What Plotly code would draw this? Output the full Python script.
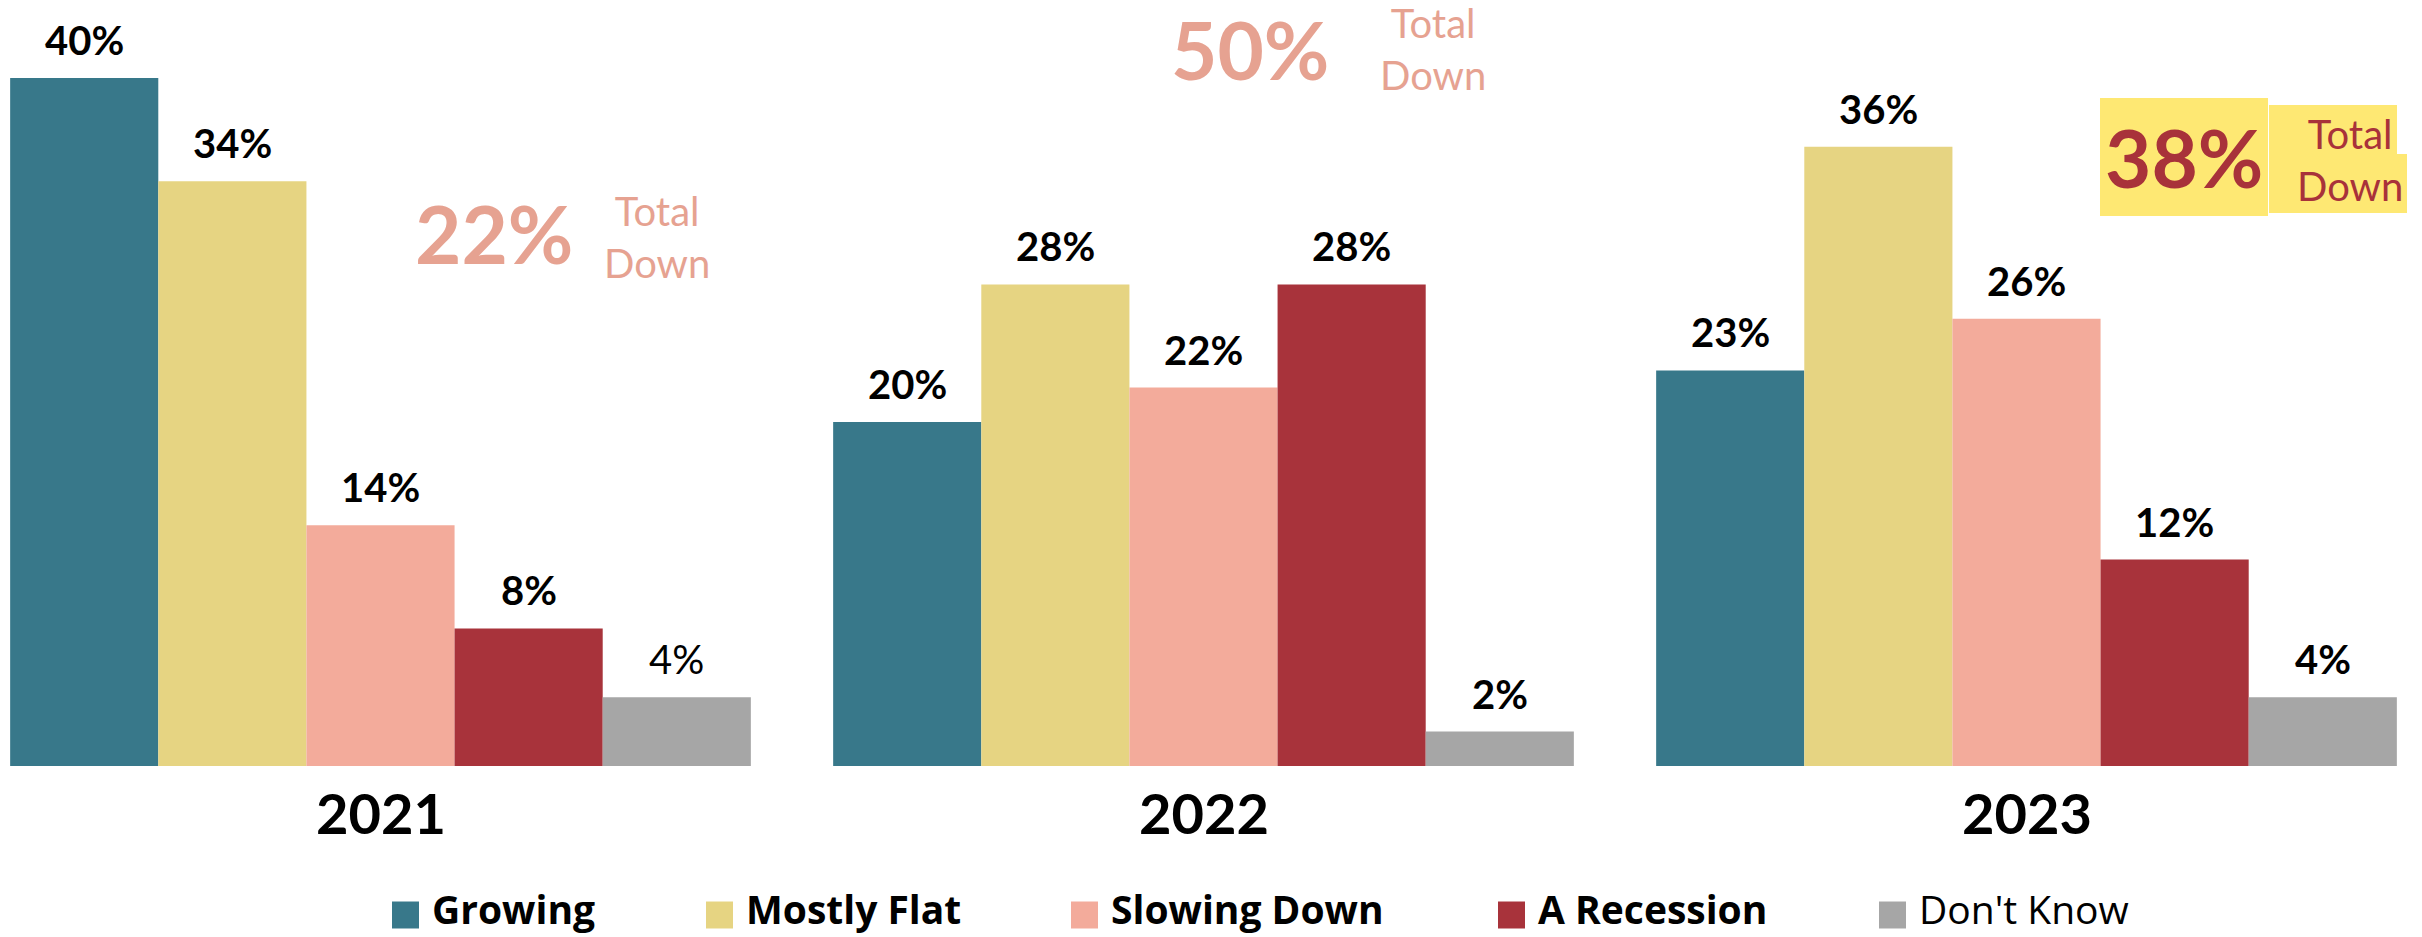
import plotly.graph_objects as go

# ---------------- data ----------------
years = ["2021", "2022", "2023"]
series = ["Growing", "Mostly Flat", "Slowing Down", "A Recession", "Don't Know"]
growing = [40, 20, 23]
mostly_flat = [34, 28, 36]
slowing_down = [14, 22, 26]
a_recession = [8, 28, 12]
dont_know = [4, 2, 4]
total_down = [22, 50, 38]
values = [growing, mostly_flat, slowing_down, a_recession, dont_know]

# ---------------- style ----------------
colors = ["#38788A", "#E6D482", "#F3AB9B", "#A8333B", "#A6A6A6"]
salmon = "#E6A291"
dark_red = "#A8323A"
yellow = "#FEE873"
FONT = "Lato"
LEG_FONT = "Open Sans"

W, H = 2422, 937
PLOT_BOTTOM = 766          # pixel row of the baseline
PX_PER_UNIT_Y = 17.2       # pixels per percentage point
CAT_PITCH = 823            # pixels per category
FIRST_CENTER = 380.5       # pixel column of first group's centre
BARGAP = 0.1

y_max = PLOT_BOTTOM / PX_PER_UNIT_Y
x0 = -FIRST_CENTER / CAT_PITCH
x1 = x0 + W / CAT_PITCH
bar_px = CAT_PITCH * (1 - BARGAP) / len(series)


def pxx(p):
    return p / W


def pxy(p):
    return (PLOT_BOTTOM - p) / PLOT_BOTTOM


fig = go.Figure()
for name, vals, col in zip(series, values, colors):
    fig.add_trace(go.Bar(
        name=name, x=years, y=vals, marker=dict(color=col, line=dict(width=0)),
        showlegend=False, hoverinfo="x+y+name",
    ))

annotations = []
shapes = []

# value labels above bars
plain_labels = {("2021", "Don't Know")}
for si, (name, vals) in enumerate(zip(series, values)):
    for yi, (year, v) in enumerate(zip(years, vals)):
        bold = (year, name) not in plain_labels
        annotations.append(dict(
            x=yi, y=v, xref="x", yref="y", text=f"{v}%", showarrow=False,
            xshift=(si - (len(series) - 1) / 2) * bar_px, yshift=38,
            xanchor="center", yanchor="middle",
            font=dict(family=FONT, size=40, color="#000000",
                      weight="bold" if bold else "normal"),
        ))

# year labels under groups
for yi, year in enumerate(years):
    annotations.append(dict(
        x=yi, y=0, xref="x", yref="paper", text=f"<b>{year}</b>", showarrow=False,
        yshift=-46, xanchor="center", yanchor="middle",
        font=dict(family=FONT, size=56, color="#000000"),
    ))

# "Total Down" callouts
callouts = [
    # (big number centre px, text centre px, colour, highlight)
    ((494, 233), (657, 237), salmon, False),
    ((1250, 49), (1433, 49), salmon, False),
    ((2184, 157), (2350, 160), dark_red, True),
]
for td, ((bx, by), (tx, ty), col, hl) in zip(total_down, callouts):
    if hl:
        shapes.append(dict(type="rect", xref="paper", yref="paper",
                           x0=pxx(2100), x1=pxx(2268), y0=pxy(216), y1=pxy(98),
                           fillcolor=yellow, line=dict(width=0), layer="above"))
        shapes.append(dict(type="rect", xref="paper", yref="paper",
                           x0=pxx(2269), x1=pxx(2397), y0=pxy(154), y1=pxy(105),
                           fillcolor=yellow, line=dict(width=0), layer="above"))
        shapes.append(dict(type="rect", xref="paper", yref="paper",
                           x0=pxx(2269), x1=pxx(2407), y0=pxy(213), y1=pxy(154),
                           fillcolor=yellow, line=dict(width=0), layer="above"))
    annotations.append(dict(
        x=pxx(bx), y=pxy(by), xref="paper", yref="paper", text=f"<b>{td}%</b>",
        showarrow=False, xanchor="center", yanchor="middle",
        font=dict(family=FONT, size=80, color=col),
    ))
    annotations.append(dict(
        x=pxx(tx), y=pxy(ty), xref="paper", yref="paper", text="Total<br>Down",
        showarrow=False, xanchor="center", yanchor="middle", align="center",
        font=dict(family=FONT, size=40, color=col),
    ))

# custom legend (large square swatches)
legend_x = [392, 706, 1071, 1498, 1879]
LEG_Y = 915
SW = 27
for name, col, lx in zip(series, colors, legend_x):
    shapes.append(dict(type="rect", xref="paper", yref="paper",
                       x0=pxx(lx), x1=pxx(lx + SW), y0=pxy(LEG_Y + SW / 2), y1=pxy(LEG_Y - SW / 2),
                       fillcolor=col, line=dict(width=0)))
    bold = name != "Don't Know"
    annotations.append(dict(
        x=pxx(lx + SW + 12), y=pxy(H - 1), xref="paper", yref="paper",
        text=name, showarrow=False, xanchor="left", yanchor="bottom", borderpad=0,
        font=dict(family=LEG_FONT, size=39, color="#000000",
                  weight="bold" if bold else "normal"),
    ))

fig.update_layout(
    width=W, height=H,
    margin=dict(l=0, r=0, t=0, b=H - PLOT_BOTTOM, pad=0),
    barmode="group", bargap=BARGAP, bargroupgap=0,
    plot_bgcolor="#FFFFFF", paper_bgcolor="#FFFFFF",
    xaxis=dict(type="category", range=[x0, x1], showticklabels=False, showgrid=False,
               zeroline=False, showline=False, ticks=""),
    yaxis=dict(range=[0, y_max], showticklabels=False, showgrid=False,
               zeroline=False, showline=False, ticks=""),
    annotations=annotations, shapes=shapes,
    font=dict(family=FONT),
)

fig.write_html(
    "out.html",
    config={"displayModeBar": False},
    post_script="document.body.style.margin='0';document.body.style.overflow='hidden';",
)
